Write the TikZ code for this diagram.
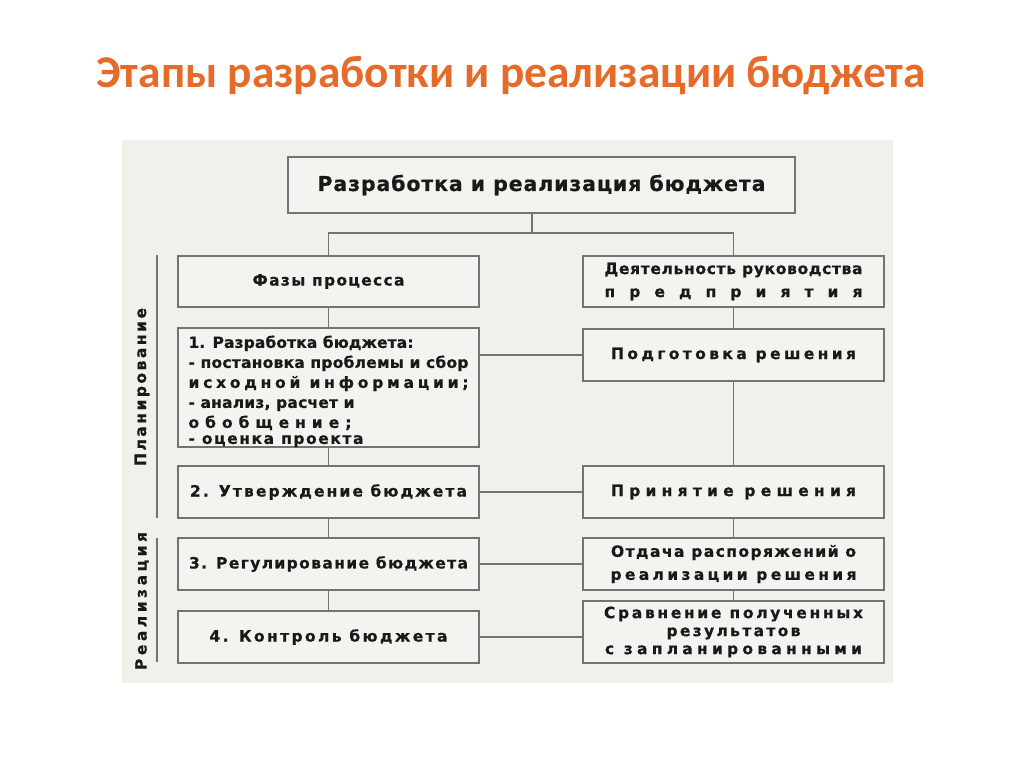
\documentclass[tikz,border=0pt]{standalone}
\usepackage{fontspec}
\setmainfont{DejaVu Sans}[BoldFeatures={FakeBold=0.6}]
\newfontfamily\titlefont{Carlito}
\usepackage{xcolor}
\usetikzlibrary{positioning, calc}

\definecolor{titleorange}{RGB}{230,106,42}
\definecolor{panelgray}{RGB}{242,240,235}
\definecolor{boxgray}{RGB}{245,243,239}
\definecolor{linegray}{RGB}{115,115,115}

% stretch a line to a given width by letter spacing
\newsavebox\fitA
\newsavebox\fitB
\newcommand\fitw[2]{%
  \sbox\fitA{#2}\sbox\fitB{\addfontfeature{LetterSpace=10}#2}%
  \pgfmathsetmacro\lsval{10*(#1-\the\wd\fitA)/(\the\wd\fitB-\the\wd\fitA)}%
  \hbox{\addfontfeature{LetterSpace=\lsval}#2}}

\begin{document}
\begin{tikzpicture}[
    x=1pt, y=-1pt,
    title/.style={anchor=base, inner sep=0pt, text=titleorange, font=\titlefont\bfseries\fontsize{40}{44}\selectfont},
    box/.style={draw=linegray, line width=1.4pt, fill=boxgray, minimum width=301pt, minimum height=52pt, inner sep=0pt, align=center, text=black!90, font=\bfseries\fontsize{15.5}{20}\selectfont},
    link/.style={draw=linegray, line width=1.4pt},
    side/.style={rotate=90, inner sep=0pt, text=black!90, font=\bfseries\fontsize{15.5}{18}\selectfont},
]

\useasboundingbox (0,0) rectangle (1024,767);
\fill[white] (0,0) rectangle (1024,767);
\fill[panelgray] (122,140) rectangle (893,683);

\node[title] (head) at (511,88) {\resizebox{829pt}{!}{Этапы разработки и реализации бюджета}};

\node[box, minimum width=507pt, minimum height=56pt, font=\bfseries\fontsize{20.5}{24}\selectfont] (top) at (541.5,185) {\fitw{448}{Разработка и реализация бюджета}};

% left column
\node[box, minimum height=51pt] (faza) at (328.5,281.5) {\fitw{152}{Фазы процесса}};
\node[box, minimum height=117pt, align=left] (razr) at (328.5,387.5) {\rule{0pt}{20pt}\fitw{225}{1. Разработка бюджета:}\\ \fitw{280}{- постановка проблемы и сбор}\\ \fitw{280}{исходной информации;}\\ \fitw{166}{- анализ, расчет и}\\ \fitw{163}{обобщение;}\\[-4pt] \fitw{175}{- оценка проекта}};
\node[box] (utv) at (328.5,492) {\fitw{277}{2. Утверждение бюджета}};
\node[box] (reg) at (328.5,564) {\fitw{279}{3. Регулирование бюджета}};
\node[box] (kontr) at (328.5,637) {\fitw{238}{4. Контроль бюджета}};

% right column
\node[box, minimum height=51pt, font=\bfseries\fontsize{15.5}{23}\selectfont] (ruk) at (733.5,281.5) {\fitw{258}{Деятельность руководства}\\ \fitw{258}{предприятия}};
\node[box] (podg) at (733.5,355) {\fitw{245}{Подготовка решения}};
\node[box] (prin) at (733.5,492) {\fitw{245}{Принятие решения}};
\node[box, font=\bfseries\fontsize{15.5}{23}\selectfont] (otd) at (733.5,564) {\fitw{245}{Отдача распоряжений о}\\ \fitw{246}{реализации решения}};
\node[box, minimum height=62pt, font=\bfseries\fontsize{15.5}{18}\selectfont] (srav) at (733.5,632) {\fitw{259}{Сравнение полученных}\\ \fitw{134}{результатов}\\ \fitw{257}{с запланированными}};

% connectors
\coordinate (fork) at (532,233);
\draw[link] (top.south -| fork) -- (fork);
\draw[link] (faza.north) |- (fork) -| (ruk.north);

\draw[link] (faza) -- (razr);
\draw[link] (razr) -- (utv);
\draw[link] (utv) -- (reg);
\draw[link] (reg) -- (kontr);

\draw[link] (ruk) -- (podg);
\draw[link] (podg) -- (prin);
\draw[link] (prin) -- (otd);
\draw[link] (otd) -- (srav);

\draw[link] (podg.west -| razr.east) -- (podg.west);
\draw[link] (utv) -- (prin);
\draw[link] (reg) -- (otd);
\draw[link] (kontr.east) -- (kontr.east -| srav.west);

% side labels
\coordinate (planA) at (157,255);
\coordinate (planB) at (157,518);
\coordinate (realA) at (157,538);
\coordinate (realB) at (157,662);
\draw[link] (planA) -- (planB);
\draw[link] (realA) -- (realB);
\node[side] (plan) at (142,387) {\fitw{158}{Планирование}};
\node[side] (real) at (142,601) {\fitw{138}{Реализация}};

\end{tikzpicture}
\end{document}
